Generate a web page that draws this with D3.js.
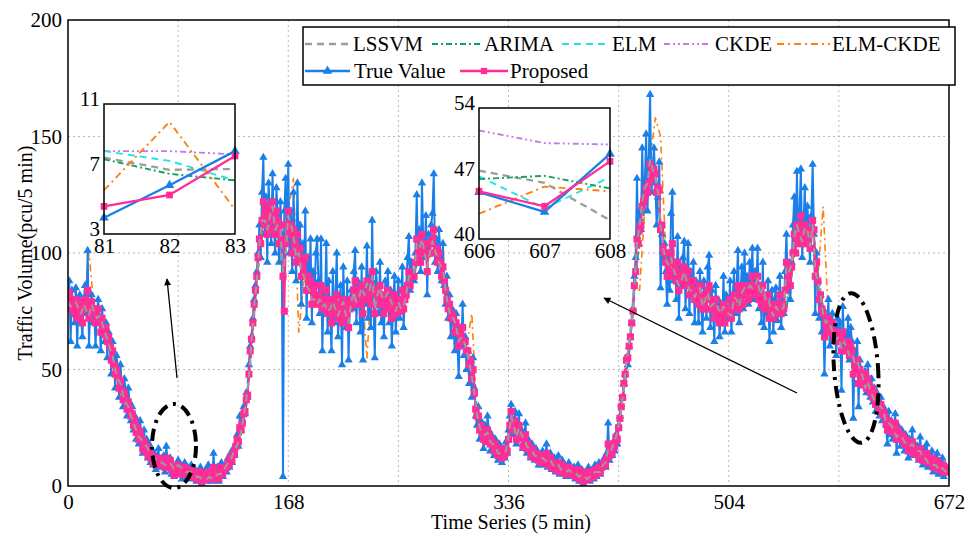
<!DOCTYPE html>
<html>
<head>
<meta charset="utf-8">
<script src="https://cdn.jsdelivr.net/npm/d3@7"></script>
<style>
  body { margin: 0; background: #fff; }
  svg { display: block; font-family: "Liberation Serif", "Times New Roman", serif; }
  svg text { font-family: "Liberation Serif", "Times New Roman", serif; }
</style>
</head>
<body>
<div id="chart"></div>
<script>
// ---- data (x = 5-min index) ----
const trueVal = [
  80, 88, 62, 84, 76, 70, 85, 60, 78, 82, 72, 64, 80, 86, 74, 101, 60, 78, 82, 70, 76, 60, 74, 80,
  72, 58, 76, 68, 62, 70, 55, 66, 60, 48, 62, 54, 42, 56, 50, 38, 52, 44, 34, 46, 40, 30, 42, 36,
  28, 34, 24, 30, 20, 26, 18, 28, 22, 14, 24, 16, 20, 12, 18, 10, 15, 9, 14, 7, 12, 16, 8, 11,
  9, 13, 6, 17, 10, 8, 12, 5, 9, 4.0, 6.0, 8.1, 11, 5, 9, 3, 7, 10, 4, 8, 6, 3, 9, 5,
  4, 7, 2, 6, 3, 8, 1, 5, 3, 7, 2, 9, 4, 6, 2, 14, 3, 5, 8, 2, 6, 10, 4, 7,
  9, 6, 12, 8, 14, 10, 16, 13, 18, 22, 17, 30, 24, 28, 34, 31, 40, 38, 52, 60, 64, 72, 80, 86,
  92, 100, 112, 98, 126, 141, 108, 124, 96, 130, 118, 104, 134, 112, 100, 128, 116, 96, 122, 108, 4, 118, 132, 106,
  138, 100, 118, 92, 126, 108, 88, 130, 96, 112, 78, 104, 90, 118, 72, 98, 84, 106, 70, 92, 80, 100, 106, 88,
  74, 106, 58, 84, 78, 104, 66, 88, 72, 58, 92, 70, 82, 100, 64, 76, 86, 52, 94, 72, 68, 88, 54, 80,
  84, 76, 92, 101, 70, 88, 80, 66, 94, 54, 86, 78, 103, 72, 90, 68, 114, 80, 55, 92, 84, 74, 96, 70,
  82, 64, 88, 76, 92, 70, 84, 60, 78, 90, 66, 80, 88, 72, 76, 94, 68, 82, 86, 98, 107, 84, 96, 90,
  88, 100, 125, 96, 110, 92, 130, 104, 98, 116, 82, 108, 100, 112, 117, 134, 96, 106, 92, 110, 100, 88, 104, 86,
  78, 90, 72, 82, 64, 76, 70, 58, 74, 62, 47, 68, 60, 78, 56, 64, 50, 58, 44, 54, 38, 55, 42, 30,
  26, 34, 20, 28, 22, 16, 26, 19, 30, 24, 15, 22, 18, 13, 20, 16, 11, 18, 14, 10, 16, 12, 19, 14,
  24, 30, 35, 22, 28, 32, 18, 26, 31, 20, 24, 16, 22, 27, 14, 20, 17, 12, 18, 15, 11, 16, 13, 9,
  13, 9, 15, 10, 12, 18, 8, 11, 14, 7, 10, 12, 6, 9, 13, 5, 8, 11, 6, 9, 4, 8, 10, 5,
  7, 4, 8, 3, 6, 9, 2, 5, 7, 1, 4, 6, 3, 8, 2, 5, 7, 3, 9, 4, 6, 10, 5, 8,
  9, 12, 8, 14, 27, 11, 16, 13, 19, 15, 22, 18, 26, 30, 35, 38, 44, 48, 55, 52, 60, 64, 70, 76,
  90, 98, 132, 104, 118, 110, 145, 122, 130, 151, 118, 140, 168, 126, 138, 145, 130, 112, 124, 139, 85, 108, 96, 104,
  92, 78, 100, 84, 117, 126, 88, 96, 80, 107, 72, 94, 86, 98, 105, 76, 90, 104, 74, 92, 82, 96, 70, 88,
  86, 70, 92, 78, 66, 88, 80, 72, 94, 99, 68, 84, 76, 62, 86, 72, 80, 64, 78, 70, 90, 66, 82, 74,
  72, 88, 66, 80, 92, 74, 86, 101, 70, 84, 94, 76, 100, 82, 90, 78, 96, 88, 102, 80, 92, 84, 102, 76,
  86, 70, 96, 68, 80, 74, 88, 62, 78, 84, 66, 80, 85, 71, 76, 90, 68, 82, 74, 92, 108, 86, 96, 80,
  96, 112, 124, 100, 135, 104, 118, 136, 98, 112, 128, 106, 120, 110, 96, 116, 138, 108, 74, 100, 88, 72, 82, 66,
  76, 48, 72, 66, 80, 60, 70, 74, 62, 68, 56, 72, 64, 70, 41, 77, 60, 66, 58, 72, 54, 68, 62, 29,
  58, 50, 62, 34, 54, 48, 45.0, 42.9, 49.1, 40, 52, 44, 38, 46, 36, 42, 32, 40, 35, 30, 38, 28, 34, 30,
  26, 18, 32, 22, 28, 20, 24, 31, 14, 26, 22, 17, 24, 20, 15, 22, 18, 12, 20, 16, 24, 13, 18, 15,
  17, 11, 21, 14, 9, 16, 12, 18, 8, 13, 10, 15, 6, 12, 9, 14, 5, 10, 8, 12, 4, 9, 7, 6
];

const proposed = [
  80, 83, 76, 80, 78, 74, 80, 72, 76, 79, 75, 70, 77, 80, 76, 84, 72, 76, 79, 74, 76, 70, 73, 76,
  72, 66, 72, 68, 65, 68, 62, 64, 60, 54, 58, 52, 48, 50, 47, 42, 45, 41, 37, 40, 37, 33, 36, 33,
  30, 31, 26, 28, 23, 25, 20, 23, 20, 16, 19, 15, 17, 13, 15, 12, 13, 10, 12, 9, 11, 12, 9, 10,
  10, 11, 8, 12, 10, 9, 11, 7, 8, 4.7, 5.4, 7.8, 9, 7, 8, 5, 7, 8, 5, 7, 6, 4, 7, 5,
  5, 6, 3, 5, 4, 6, 2, 4, 3, 5, 3, 6, 4, 5, 3, 8, 4, 5, 6, 3, 5, 8, 5, 7,
  8, 8, 10, 9, 12, 11, 14, 14, 17, 20, 19, 25, 24, 27, 31, 32, 37, 39, 48, 58, 63, 70, 78, 84,
  90, 98, 106, 104, 114, 122, 112, 118, 108, 120, 116, 110, 122, 114, 108, 118, 114, 104, 112, 106, 90, 75, 104, 112,
  118, 108, 112, 100, 110, 104, 96, 108, 98, 102, 90, 96, 90, 98, 84, 90, 84, 88, 78, 84, 80, 86, 78, 82,
  80, 86, 76, 80, 78, 84, 74, 80, 76, 70, 80, 74, 76, 82, 72, 74, 78, 70, 80, 74, 72, 78, 68, 76,
  80, 78, 84, 88, 78, 84, 82, 78, 86, 74, 82, 80, 88, 80, 84, 78, 92, 84, 74, 84, 82, 78, 86, 80,
  80, 74, 82, 78, 84, 76, 80, 72, 76, 82, 74, 78, 80, 76, 75, 84, 76, 80, 82, 86, 92, 86, 90, 90,
  90, 96, 106, 98, 102, 96, 108, 104, 100, 104, 92, 100, 100, 104, 106, 110, 100, 102, 96, 100, 96, 90, 94, 88,
  84, 80, 76, 78, 72, 74, 72, 66, 70, 66, 60, 66, 64, 68, 62, 62, 58, 58, 52, 54, 46, 50, 40, 33,
  30, 30, 24, 26, 23, 20, 22, 19, 24, 22, 18, 20, 18, 15, 18, 16, 13, 16, 14, 12, 14, 13, 16, 15,
  20, 26, 32, 24, 26, 28, 20, 24, 26, 21, 22, 17, 20, 22, 16, 18, 16, 13, 16, 14, 12, 14, 13, 11,
  12, 10, 13, 11, 11, 14, 9, 10, 12, 8, 9, 10, 7, 8, 10, 6, 7, 9, 6, 8, 5, 7, 8, 6,
  6, 5, 7, 4, 5, 7, 3, 4, 6, 2, 4, 5, 3, 6, 3, 4, 6, 4, 7, 5, 6, 8, 6, 8,
  9, 10, 9, 12, 18, 13, 15, 14, 18, 17, 21, 20, 25, 29, 34, 38, 44, 48, 54, 55, 60, 64, 70, 75,
  86, 92, 106, 104, 110, 112, 120, 122, 124, 128, 126, 130, 138, 132, 134, 136, 134, 126, 128, 127, 110, 112, 102, 100,
  96, 90, 96, 90, 100, 104, 92, 94, 88, 96, 84, 90, 88, 92, 94, 86, 88, 92, 82, 88, 84, 88, 80, 84,
  84, 78, 86, 80, 76, 82, 80, 76, 84, 86, 76, 80, 78, 72, 80, 74, 76, 70, 74, 72, 78, 70, 76, 74,
  74, 80, 72, 76, 82, 76, 80, 86, 76, 80, 84, 78, 86, 82, 84, 80, 86, 84, 90, 82, 86, 82, 90, 80,
  82, 78, 86, 76, 80, 76, 82, 72, 76, 78, 72, 76, 78, 74, 74, 82, 74, 78, 76, 84, 96, 86, 92, 86,
  94, 100, 108, 100, 112, 104, 108, 116, 104, 106, 112, 104, 110, 108, 102, 108, 114, 110, 90, 96, 88, 80, 82, 76,
  74, 64, 70, 68, 72, 66, 68, 70, 64, 66, 62, 66, 64, 64, 58, 66, 62, 62, 58, 62, 56, 60, 58, 48,
  52, 50, 54, 44, 50, 48, 45.1, 43.5, 48.3, 42, 46, 43, 40, 42, 38, 40, 35, 38, 35, 33, 35, 31, 32, 30,
  27, 24, 28, 25, 26, 23, 24, 27, 20, 24, 22, 20, 22, 21, 18, 20, 18, 15, 18, 16, 19, 14, 16, 15,
  15, 12, 16, 13, 11, 13, 12, 14, 10, 11, 10, 12, 8, 10, 9, 11, 7, 9, 8, 9, 6, 8, 7, 6
];

// LSSVM read every 2nd step
const lssvm = [
  79, 77, 78, 79, 76, 74, 78, 75, 73, 78, 75, 72,
  73, 70, 66, 63, 59, 56, 50, 46, 44, 39, 36, 34,
  30, 27, 24, 21, 20, 18, 17, 15, 13, 12, 11, 10,
  10, 9, 10, 10, 8, 6.95, 9, 8, 7, 6, 6, 6,
  5, 4, 4, 3, 3, 3, 4, 3, 4, 5, 5, 6,
  8, 10, 11, 14, 16, 19, 23, 30, 37, 47, 62, 77,
  88, 104, 114, 114, 110, 116, 120, 110, 112, 110, 92, 100,
  116, 112, 108, 98, 100, 92, 90, 86, 84, 80, 80, 78,
  80, 77, 78, 75, 76, 79, 76, 73, 77, 79, 73, 70,
  79, 83, 79, 81, 85, 82, 87, 84, 90, 76, 82, 85,
  80, 81, 83, 80, 77, 75, 79, 76, 77, 82, 90, 90,
  91, 104, 102, 106, 100, 94, 100, 105, 101, 97, 95, 93,
  84, 77, 72, 72, 69, 62, 64, 62, 58, 53, 47, 40,
  31, 25, 23, 22, 23, 19, 18, 17, 14, 14, 14, 15,
  21, 30, 26, 21, 25, 22, 20, 17, 16, 15, 13, 13,
  12, 12, 11, 10, 11, 9, 8, 9, 7, 7, 6, 7,
  6, 6, 5, 4, 5, 4, 3, 4, 5, 6, 6, 6,
  9, 10, 16, 15, 18, 21, 26, 33, 43, 53, 61, 70,
  85, 104, 112, 122, 128, 130, 140, 136, 132, 126, 112, 102,
  97, 95, 98, 93, 89, 86, 88, 92, 88, 84, 84, 81,
  84, 85, 77, 80, 83, 77, 78, 79, 76, 74, 77, 75,
  74, 73, 81, 80, 77, 83, 85, 84, 86, 85, 86, 89,
  82, 85, 80, 81, 76, 73, 77, 75, 75, 77, 94, 92,
  95, 107, 112, 108, 105, 111, 110, 103, 112, 92, 88, 82,
  74, 70, 71, 68, 65, 63, 64, 59, 62, 59, 56, 57,
  53, 54, 50, 47.3, 42.0, 45, 41, 38, 36, 35, 34, 32,
  27, 27, 26, 24, 21, 22, 21, 19, 18, 17, 18, 16,
  15, 15, 12, 12, 10, 10, 9, 9, 7, 8, 7, 6
];

// the other models read every 4th step
const arima = [
  79, 79, 77, 76, 74, 75, 73, 67, 62, 51, 46, 39, 32, 25, 21, 18, 14, 12, 11, 10, 8, 9, 7, 6,
  6, 4, 4, 4, 4, 5, 7, 11, 16, 22, 34, 58, 86, 110, 110, 118, 116, 96, 112, 110, 100, 92, 86, 81,
  80, 79, 77, 76, 77, 74, 78, 78, 84, 87, 90, 84, 81, 83, 78, 79, 77, 89, 90, 99, 100, 100, 99, 96,
  86, 75, 71, 66, 59, 49, 34, 25, 24, 19, 15, 14, 19, 24, 25, 21, 17, 13, 12, 11, 11, 8, 7, 6,
  6, 5, 6, 4, 5, 6, 8, 16, 18, 24, 40, 56, 82, 106, 120, 134, 132, 114, 98, 99, 90, 88, 87, 85,
  84, 78, 82, 78, 77, 78, 75, 80, 77, 84, 86, 85, 82, 80, 77, 78, 75, 76, 90, 108, 106, 109, 112, 92,
  77, 72, 66, 64, 62, 58, 53, 50, 46, 41, 36, 35, 29, 26, 21, 22, 19, 19, 15, 12, 10, 9, 8, 8
];
const elm = [
  81, 77, 77, 78, 71, 76, 71, 66, 59, 49, 44, 38, 29, 24, 19, 17, 13, 11, 10, 9, 8, 9, 7, 5,
  5, 4, 3, 4, 4, 5, 8, 12, 18, 25, 39, 66, 92, 116, 106, 120, 112, 88, 120, 108, 96, 90, 83, 80,
  81, 77, 75, 77, 79, 71, 81, 77, 87, 87, 93, 81, 79, 85, 75, 81, 75, 93, 89, 104, 99, 101, 100, 95,
  83, 71, 69, 63, 57, 45, 29, 22, 25, 17, 13, 15, 21, 27, 25, 19, 16, 12, 12, 11, 12, 7, 7, 5,
  6, 5, 6, 3, 6, 6, 10, 19, 18, 26, 46, 62, 88, 112, 126, 140, 132, 108, 94, 101, 87, 89, 87, 83,
  85, 75, 85, 77, 75, 79, 73, 83, 75, 87, 85, 87, 81, 81, 75, 79, 73, 77, 96, 114, 102, 111, 115, 86,
  73, 71, 63, 65, 61, 55, 51, 50, 46, 39, 34, 36, 26, 27, 19, 23, 17, 19, 14, 11, 10, 8, 7, 7
];
const ckde = [
  82, 80, 78, 78, 74, 77, 74, 68, 62, 51, 47, 40, 33, 26, 22, 18, 15, 13, 11, 10, 9, 9, 8, 7,
  6, 5, 4, 5, 5, 6, 9, 13, 18, 25, 36, 60, 86, 110, 108, 118, 112, 94, 114, 108, 98, 90, 85, 81,
  80, 78, 76, 76, 77, 73, 79, 78, 85, 87, 90, 83, 80, 83, 77, 79, 76, 90, 89, 100, 99, 99, 98, 95,
  85, 74, 71, 66, 60, 49, 33, 26, 25, 20, 15, 15, 20, 25, 25, 21, 17, 13, 13, 12, 12, 8, 8, 6,
  7, 6, 6, 4, 6, 7, 10, 17, 19, 25, 42, 58, 84, 104, 118, 130, 126, 112, 98, 98, 90, 88, 87, 84,
  84, 77, 83, 78, 77, 78, 75, 81, 77, 85, 85, 85, 82, 80, 77, 78, 75, 77, 92, 108, 104, 108, 110, 90,
  76, 72, 66, 65, 63, 58, 54, 52, 50, 43, 37, 36, 29, 27, 22, 22, 19, 19, 16, 12, 11, 9, 8, 8
];
const elmCkde = [
  80, 78, 76, 77, 100, 76, 72, 64, 61, 47, 46, 36, 31, 22, 21, 16, 14, 11, 10, 10, 8, 9, 7, 6,
  5, 4, 3, 4, 4, 5, 8, 11, 16, 23, 34, 58, 88, 116, 106, 124, 112, 92, 118, 132, 66, 88, 84, 80,
  81, 77, 76, 75, 79, 71, 80, 78, 86, 55, 92, 80, 80, 84, 76, 80, 75, 90, 91, 100, 102, 98, 110, 94,
  84, 72, 70, 63, 60, 74, 30, 23, 25, 17, 13, 14, 21, 27, 25, 20, 16, 12, 12, 11, 12, 7, 7, 5,
  6, 5, 6, 3, 6, 6, 9, 18, 18, 25, 42, 58, 84, 84, 120, 140, 158, 150, 100, 98, 88, 87, 89, 84,
  84, 76, 85, 77, 76, 79, 74, 82, 76, 86, 86, 86, 82, 80, 76, 78, 74, 76, 92, 110, 104, 112, 114, 90,
  120, 72, 64, 63, 62, 56, 52, 48, 48, 40, 35, 34, 27, 26, 20, 22, 18, 19, 15, 11, 10, 8, 7, 8
];

// zoomed-in boxes
const zoomA = {
  x: [81, 82, 83],
  lssvm: [7.7, 6.95, 7.0], arima: [7.6, 6.7, 6.3], elm: [8.1, 7.5, 6.3],
  ckde: [8.1, 8.1, 7.9], elmCkde: [5.7, 9.9, 4.5]
};
const zoomB = {
  x: [606, 607, 608],
  lssvm: [47.3, 46.0, 42.0], arima: [46.4, 46.75, 45.4], elm: [46.7, 43.3, 46.6],
  ckde: [51.6, 50.25, 50.1], elmCkde: [42.7, 45.6, 45.1]
};

const xTicks = [0, 168, 336, 504, 672];
const yTicks = [0, 50, 100, 150, 200];

// ---- styles ----
const sty = {
  lssvm:   {color: "#9c9c9c", dash: "7,5", w: 2},
  arima:   {color: "#14a25c", dash: "6,3,2,3", w: 1.6},
  elm:     {color: "#22e4e8", dash: "7,5", w: 1.6},
  ckde:    {color: "#c27ce6", dash: "6,3,2,3,2,3", w: 1.6},
  elmCkde: {color: "#ff800e", dash: "7,4,2,4", w: 1.6},
  truth:   {color: "#1a7fe8", dash: null, w: 2},
  prop:    {color: "#ff2d95", dash: null, w: 2}
};
const serif = '"Liberation Serif", "Times New Roman", serif';

const width = 978, height = 536;
const plot = {left: 68, right: 949, top: 20, bottom: 486};

const svg = d3.select("#chart").append("svg")
  .attr("width", width)
  .attr("height", height);

const x = d3.scaleLinear().domain([0, 672]).range([plot.left, plot.right]);
const y = d3.scaleLinear().domain([0, 200]).range([plot.bottom, plot.top]);

// grid
const grid = svg.append("g");
grid.selectAll("line.v").data(d3.range(84, 672, 84)).enter().append("line")
  .attr("x1", d => x(d)).attr("x2", d => x(d))
  .attr("y1", plot.top).attr("y2", plot.bottom)
  .attr("stroke", "#b8b8b8").attr("stroke-dasharray", "2,3");
grid.selectAll("line.h").data([50, 100, 150]).enter().append("line")
  .attr("x1", plot.left).attr("x2", plot.right)
  .attr("y1", d => y(d)).attr("y2", d => y(d))
  .attr("stroke", "#b8b8b8").attr("stroke-dasharray", "2,3");

svg.append("clipPath").attr("id", "clip").append("rect")
  .attr("x", plot.left).attr("y", plot.top)
  .attr("width", plot.right - plot.left).attr("height", plot.bottom - plot.top);

const series = svg.append("g").attr("clip-path", "url(#clip)");

function drawLine(g, xs, ys, vals, step, s) {
  const pts = vals.map((v, i) => [i * step, v]);
  g.append("path")
    .datum(pts)
    .attr("fill", "none")
    .attr("stroke", s.color)
    .attr("stroke-width", s.w)
    .attr("stroke-dasharray", s.dash)
    .attr("stroke-linejoin", "round")
    .attr("d", d3.line().x(d => xs(d[0])).y(d => ys(d[1])));
  return pts;
}

function drawMarks(g, xs, ys, pts, type, size, color) {
  g.append("g").selectAll("path")
    .data(pts)
    .enter()
    .append("path")
    .attr("transform", d => `translate(${xs(d[0])},${ys(d[1])})`)
    .attr("d", d3.symbol().type(type).size(size))
    .attr("fill", color);
}

drawLine(series, x, y, elmCkde, 4, sty.elmCkde);
drawLine(series, x, y, ckde, 4, sty.ckde);
drawLine(series, x, y, elm, 4, sty.elm);
drawLine(series, x, y, arima, 4, sty.arima);
const tPts = drawLine(series, x, y, trueVal, 1, sty.truth);
drawMarks(series, x, y, tPts, d3.symbolTriangle, 30, sty.truth.color);
const pPts = drawLine(series, x, y, proposed, 1, sty.prop);
drawMarks(series, x, y, pPts, d3.symbolSquare, 50, sty.prop.color);
drawLine(series, x, y, lssvm, 2, sty.lssvm);

// axes
const fontSize = 21;
function styleAxis(a) {
  a.attr("font-family", null).attr("font-size", null);
  a.select(".domain").remove();
  a.selectAll("text")
    .style("font-family", serif)
    .style("font-size", fontSize + "px")
    .attr("fill", "#000");
}
styleAxis(svg.append("g")
  .attr("transform", `translate(0,${plot.bottom})`)
  .call(d3.axisBottom(x).tickValues(xTicks).tickSize(0).tickPadding(8)));
styleAxis(svg.append("g")
  .attr("transform", `translate(${plot.left},0)`)
  .call(d3.axisLeft(y).tickValues(yTicks).tickSize(0).tickPadding(6)));

svg.append("text")
  .attr("x", 511).attr("y", 529)
  .attr("text-anchor", "middle").style("font-size", "20px")
  .text("Time Series (5 min)");
svg.append("text")
  .attr("transform", "translate(32,253) rotate(-90)")
  .attr("text-anchor", "middle").style("font-size", "20px")
  .text("Traffic Volume(pcu/5 min)");

// insets
function inset(box, tbl, yDom, yTk, trueSlice, propSlice) {
  const g = svg.append("g");
  const xs = d3.scaleLinear().domain([tbl.x[0], tbl.x[2]]).range([box.x0, box.x1]);
  const ys = d3.scaleLinear().domain(yDom).range([box.y1, box.y0]);
  g.append("rect").attr("x", box.x0).attr("y", box.y0)
    .attr("width", box.x1 - box.x0).attr("height", box.y1 - box.y0)
    .attr("fill", "#fff");
  const lineOf = (vals, s) => {
    const pts = vals.map((v, i) => [tbl.x[i], v]);
    g.append("path").datum(pts)
      .attr("fill", "none").attr("stroke", s.color).attr("stroke-width", s.w + 0.3)
      .attr("stroke-dasharray", s.dash)
      .attr("d", d3.line().x(d => xs(d[0])).y(d => ys(d[1])));
    return pts;
  };
  lineOf(tbl.ckde, sty.ckde);
  lineOf(tbl.elm, sty.elm);
  lineOf(tbl.lssvm, sty.lssvm);
  lineOf(tbl.arima, sty.arima);
  lineOf(tbl.elmCkde, sty.elmCkde);
  const tp = lineOf(trueSlice, sty.truth);
  drawMarks(g, xs, ys, tp, d3.symbolTriangle, 40, sty.truth.color);
  const pp = lineOf(propSlice, sty.prop);
  drawMarks(g, xs, ys, pp, d3.symbolSquare, 45, sty.prop.color);
  g.append("rect").attr("x", box.x0).attr("y", box.y0)
    .attr("width", box.x1 - box.x0).attr("height", box.y1 - box.y0)
    .attr("fill", "none").attr("stroke", "#000").attr("stroke-width", 1.5);
  const ax = g.append("g").attr("transform", `translate(0,${box.y1})`)
    .call(d3.axisBottom(xs).tickValues(tbl.x).tickFormat(d3.format("d")).tickSize(0).tickPadding(4));
  const ay = g.append("g").attr("transform", `translate(${box.x0},0)`)
    .call(d3.axisLeft(ys).tickValues(yTk).tickSize(0).tickPadding(4));
  styleAxis(ax);
  styleAxis(ay);
  ay.selectAll("text").attr("y", -5);
}

inset({x0: 104, x1: 235, y0: 104, y1: 234}, zoomA, [3, 11], [3, 7, 11],
  trueVal.slice(81, 84), proposed.slice(81, 84));
inset({x0: 479, x1: 610, y0: 108, y1: 239}, zoomB, [40, 54], [40, 47, 54],
  trueVal.slice(606, 609), proposed.slice(606, 609));

// annotations
svg.append("defs").append("marker")
  .attr("id", "arrow").attr("viewBox", "0 0 10 10")
  .attr("refX", 9).attr("refY", 5)
  .attr("markerWidth", 9).attr("markerHeight", 7)
  .attr("markerUnits", "userSpaceOnUse")
  .attr("orient", "auto")
  .append("path").attr("d", "M0,0L10,5L0,10z").attr("fill", "#000");

svg.append("line")
  .attr("x1", 177).attr("y1", 378).attr("x2", 167).attr("y2", 279)
  .attr("stroke", "#000").attr("stroke-width", 1.3).attr("marker-end", "url(#arrow)");
svg.append("line")
  .attr("x1", 797).attr("y1", 393).attr("x2", 604).attr("y2", 298)
  .attr("stroke", "#000").attr("stroke-width", 1.3).attr("marker-end", "url(#arrow)");

svg.append("ellipse")
  .attr("cx", 174).attr("cy", 446).attr("rx", 22).attr("ry", 42)
  .attr("fill", "none").attr("stroke", "#000").attr("stroke-width", 4)
  .attr("stroke-dasharray", "12,6,3,6");
svg.append("ellipse")
  .attr("transform", "rotate(-4,856,368)")
  .attr("cx", 856).attr("cy", 368).attr("rx", 22).attr("ry", 75)
  .attr("fill", "none").attr("stroke", "#000").attr("stroke-width", 4)
  .attr("stroke-dasharray", "12,6,3,6");

// frame
svg.append("rect")
  .attr("x", plot.left).attr("y", plot.top)
  .attr("width", plot.right - plot.left).attr("height", plot.bottom - plot.top)
  .attr("fill", "none").attr("stroke", "#000").attr("stroke-width", 1.5);

// legend
const lg = svg.append("g");
lg.append("rect").attr("x", 303).attr("y", 27).attr("width", 652).attr("height", 58)
  .attr("fill", "#fff").attr("stroke", "#000").attr("stroke-width", 1.5);
const legendItems = [
  {label: "LSSVM", s: sty.lssvm, x0: 305, x1: 350, tx: 353, row: 0},
  {label: "ARIMA", s: sty.arima, x0: 432, x1: 481, tx: 484, row: 0},
  {label: "ELM", s: sty.elm, x0: 562, x1: 609, tx: 612, row: 0},
  {label: "CKDE", s: sty.ckde, x0: 664, x1: 711, tx: 715, row: 0},
  {label: "ELM-CKDE", s: sty.elmCkde, x0: 777, x1: 830, tx: 832, row: 0},
  {label: "True Value", s: sty.truth, x0: 305, x1: 350, tx: 354, row: 1, mark: d3.symbolTriangle},
  {label: "Proposed", s: sty.prop, x0: 460, x1: 508, tx: 510, row: 1, mark: d3.symbolSquare}
];
legendItems.forEach(it => {
  const cy = it.row === 0 ? 44 : 71;
  lg.append("line").attr("x1", it.x0).attr("x2", it.x1).attr("y1", cy).attr("y2", cy)
    .attr("stroke", it.s.color).attr("stroke-width", it.s.w + 0.3)
    .attr("stroke-dasharray", it.s.dash);
  if (it.mark) {
    lg.append("path").attr("transform", `translate(${(it.x0 + it.x1) / 2},${cy})`)
      .attr("d", d3.symbol().type(it.mark).size(40)).attr("fill", it.s.color);
  }
  lg.append("text").attr("x", it.tx).attr("y", cy).attr("dy", "0.35em")
    .style("font-size", fontSize + "px").text(it.label);
});
</script>
</body>
</html>
